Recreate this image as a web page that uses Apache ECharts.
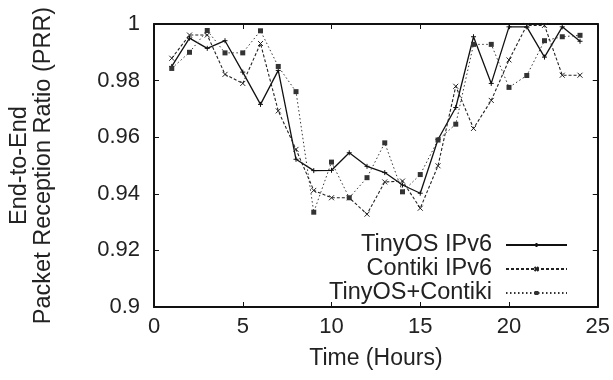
<!DOCTYPE html>
<html><head><meta charset="utf-8">
<script src="https://cdn.jsdelivr.net/npm/echarts@6/dist/echarts.min.js"></script>
<style>html,body{margin:0;padding:0;background:#fff}#c{width:613px;height:380px}</style>
</head><body><div id="c"></div>
<script>
var hours = [1,2,3,4,5,6,7,8,9,10,11,12,13,14,15,16,17,18,19,20,21,22,23,24];
var tinyos = [0.985,0.995,0.9914,0.9941,0.983,0.9716,0.9836,0.9522,0.9482,0.9483,0.9545,0.9497,0.9475,0.9431,0.9402,0.9592,0.9705,0.9955,0.979,0.999,0.999,0.9883,0.999,0.9939];
var contiki = [0.9879,0.9961,0.9961,0.9822,0.979,0.9931,0.9693,0.9557,0.9412,0.9386,0.9386,0.9328,0.9442,0.9445,0.9349,0.9499,0.978,0.9631,0.973,0.9873,0.9995,0.9995,0.9819,0.9819];
var combined = [0.9843,0.99,0.9977,0.9898,0.9898,0.9976,0.985,0.9761,0.9335,0.9512,0.9386,0.9457,0.958,0.9407,0.9468,0.959,0.9646,0.9928,0.9928,0.9776,0.9818,0.9941,0.9955,0.996];
var seriesNames = ['TinyOS IPv6','Contiki IPv6','TinyOS+Contiki'];
var xTicks = [0,5,10,15,20,25];
var yTicks = [0.9,0.92,0.94,0.96,0.98,1];

function pairs(v){ return hours.map(function(h,i){ return [h, v[i]]; }); }
var FONT = 'Liberation Sans';
var txt = '#222';
var chart = echarts.init(document.getElementById('c'));
var axisCommon = {
  axisLine:{show:true, onZero:false, lineStyle:{color:'#111', width:2}},
  axisTick:{show:true, inside:true, length:5, lineStyle:{color:'#111', width:1}},
  splitLine:{show:false}
};
function ax(o){ return Object.assign({}, axisCommon, o); }
var plusPath = 'path://M5,0L5,10M0,5L10,5';
var crossPath = 'path://M0,0L10,10M10,0L0,10';
chart.setOption({
  animation:false,
  grid:{left:154, right:15, top:24, bottom:73},
  legend:{
    orient:'vertical', right:40, top:228, align:'right',
    itemWidth:61, itemHeight:5, itemGap:0,
    textStyle:{fontFamily:FONT, fontSize:23.5, color:txt, lineHeight:23.5, padding:[0,9,0,0]},
    data:seriesNames
  },
  xAxis:[
    ax({type:'value', position:'bottom', min:xTicks[0], max:xTicks[xTicks.length-1], interval:5,
      name:'Time (Hours)', nameLocation:'middle', nameGap:40,
      nameTextStyle:{fontFamily:FONT, fontSize:23, color:txt},
      axisLabel:{fontFamily:FONT, fontSize:22, color:txt, margin:9}}),
    ax({type:'value', position:'top', min:0, max:25, interval:5, axisLabel:{show:false}})
  ],
  yAxis:[
    ax({type:'value', position:'left', min:yTicks[0], max:yTicks[yTicks.length-1], interval:0.02,
      name:'End-to-End\nPacket Reception Ratio (PRR)', nameLocation:'middle', nameGap:98, nameRotate:90,
      nameTextStyle:{fontFamily:FONT, fontSize:23.5, color:txt, lineHeight:24},
      axisLabel:{fontFamily:FONT, fontSize:22, color:txt, margin:14,
        formatter:function(v){ return String(Math.round(v*100)/100); }}}),
    ax({type:'value', position:'right', min:0.9, max:1, interval:0.02, axisLabel:{show:false}})
  ],
  series:[
    {name:seriesNames[0], type:'line', data:pairs(tinyos), symbol:plusPath, symbolSize:5, showAllSymbol:true,
     lineStyle:{color:'#111', width:1.3, type:'solid'},
     itemStyle:{color:'#111', borderColor:'#111', borderWidth:1}},
    {name:seriesNames[1], type:'line', data:pairs(contiki), symbol:crossPath, symbolSize:5, showAllSymbol:true,
     lineStyle:{color:'#222', width:1.1, type:[3,2]},
     itemStyle:{color:'#222', borderColor:'#222', borderWidth:1}},
    {name:seriesNames[2], type:'line', data:pairs(combined), symbol:'rect', symbolSize:5, showAllSymbol:true,
     lineStyle:{color:'#333', width:1, type:[1.5,2.5]},
     itemStyle:{color:'#333', borderColor:'#333', borderWidth:0}}
  ]
});
</script></body></html>
